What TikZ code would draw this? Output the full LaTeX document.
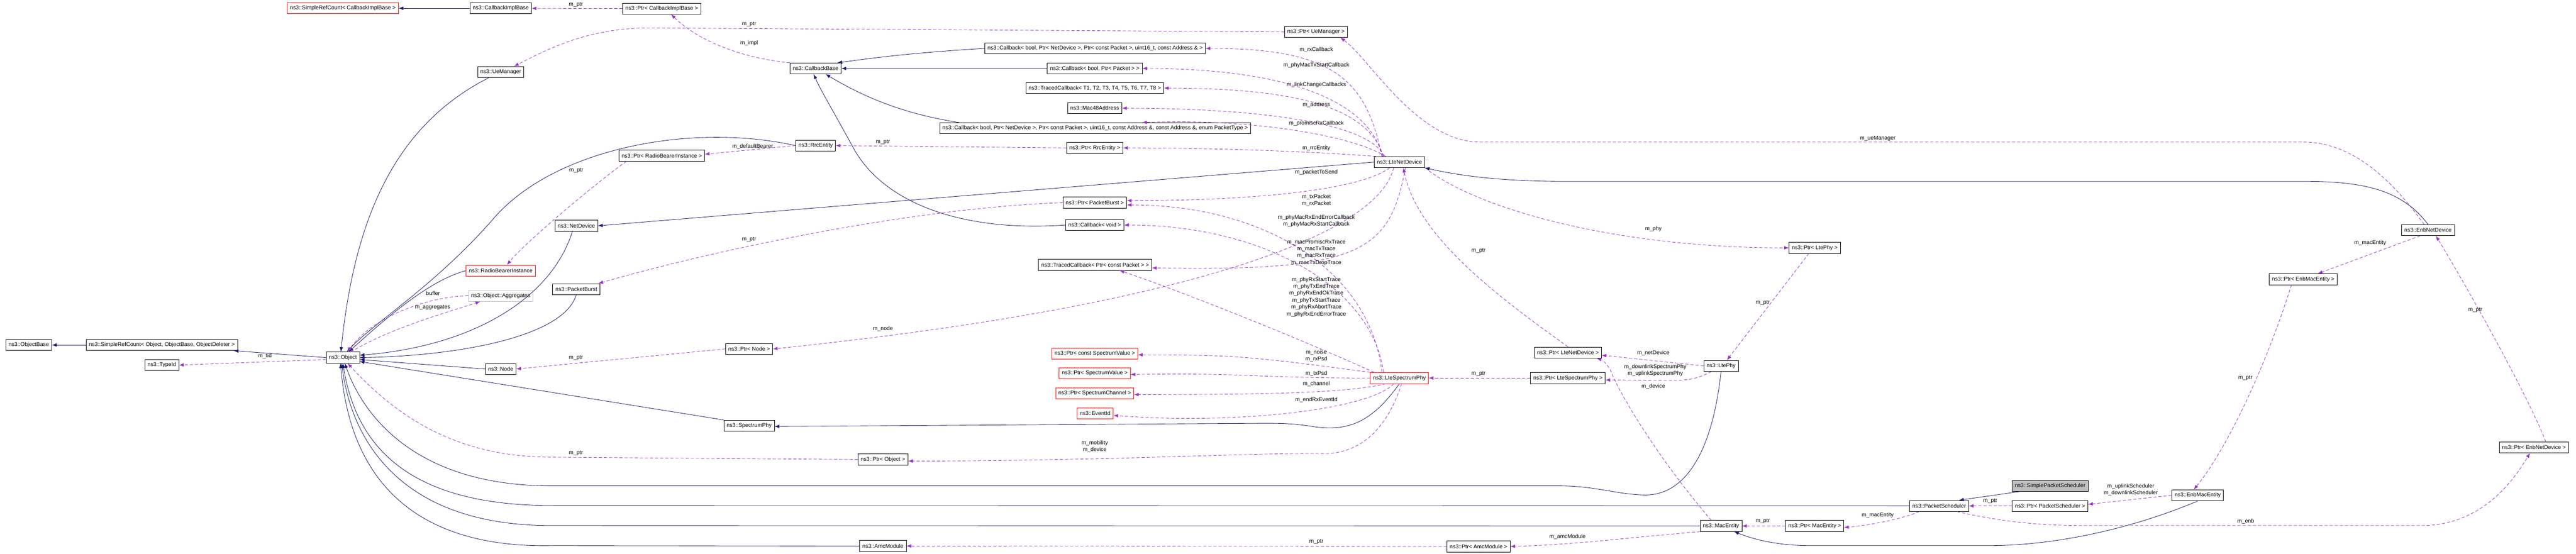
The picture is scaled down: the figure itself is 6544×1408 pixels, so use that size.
\documentclass[tikz,border=0pt]{standalone}
\usepackage{fontspec}
\setmainfont{Liberation Sans}
\usetikzlibrary{arrows.meta}
\definecolor{inhc}{RGB}{25,25,112}
\definecolor{depc}{RGB}{154,50,205}
\definecolor{redb}{RGB}{255,0,0}
\definecolor{greyb}{RGB}{191,191,191}
\begin{document}
\begin{tikzpicture}[x=1pt,y=-1pt,
  every node/.style={font=\fontsize{14}{17.5}\selectfont},
  box/.style={draw=black,line width=1pt,minimum height=28pt,inner xsep=7pt,inner ysep=2pt,fill=white},
  rbox/.style={box,draw=redb},
  gbox/.style={box,draw=greyb},
  sbox/.style={box,fill=greyb},
  lab/.style={align=center,inner sep=0pt},
  inh/.style={draw=inhc,line width=1.1pt,-{Latex[length=12pt,width=9pt]}},
  dep/.style={draw=depc,line width=1.1pt,dash pattern=on 8pt off 5pt,-{Latex[length=12pt,width=9pt]}}]
\useasboundingbox (0,0) rectangle (6544,1408);
% nodes
\node[rbox] (sref1) at (871,21) {ns3::SimpleRefCount< CallbackImplBase >};
\node[box] (cib) at (1272,21) {ns3::CallbackImplBase};
\node[box] (pcib) at (1681,22) {ns3::Ptr< CallbackImplBase >};
\node[box] (uem) at (1272,183) {ns3::UeManager};
\node[rbox] (rbi) at (1272,688) {ns3::RadioBearerInstance};
\node[gbox] (agg) at (1272,752) {ns3::Object::Aggregates};
\node[box] (obase) at (73,877) {ns3::ObjectBase};
\node[box] (sref2) at (411,877) {ns3::SimpleRefCount< Object, ObjectBase, ObjectDeleter >};
\node[box] (tid) at (411,928) {ns3::TypeId};
\node[box] (obj) at (871,909) {ns3::Object};
\node[box] (node) at (1272,938) {ns3::Node};
\node[box] (cbb) at (2072,174) {ns3::CallbackBase};
\node[box] (rrc) at (2072,370) {ns3::RrcEntity};
\node[box] (prbi) at (1681,396) {ns3::Ptr< RadioBearerInstance >};
\node[box] (nd) at (1464,574) {ns3::NetDevice};
\node[box] (pb) at (1464,735) {ns3::PacketBurst};
\node[box] (pnode) at (1903,887) {ns3::Ptr< Node >};
\node[box] (sphy) at (1903,1082) {ns3::SpectrumPhy};
\node[box] (pobj) at (2243,1168) {ns3::Ptr< Object >};
\node[box] (amc) at (2243,1388) {ns3::AmcModule};
\node[box] (puem) at (3343,81) {ns3::Ptr< UeManager >};
\node[box] (cb1) at (2782,123) {ns3::Callback< bool, Ptr< NetDevice >, Ptr< const Packet >, uint16\_t, const Address \& >};
\node[box] (cb2) at (2781,174) {ns3::Callback< bool, Ptr< Packet > >};
\node[box] (tcb) at (2781,224) {ns3::TracedCallback< T1, T2, T3, T4, T5, T6, T7, T8 >};
\node[box] (mac48) at (2781,275) {ns3::Mac48Address};
\node[box] (cb3) at (2782,326) {ns3::Callback< bool, Ptr< NetDevice >, Ptr< const Packet >, uint16\_t, const Address \&, const Address \&, enum PacketType >};
\node[box] (prrc) at (2781,376) {ns3::Ptr< RrcEntity >};
\node[box] (lnd) at (3555,412) {ns3::LteNetDevice};
\node[box] (ppb) at (2781,515) {ns3::Ptr< PacketBurst >};
\node[box] (cbv) at (2781,572) {ns3::Callback< void >};
\node[box] (tcp) at (2782,673) {ns3::TracedCallback< Ptr< const Packet > >};
\node[rbox] (pcsv) at (2781,899) {ns3::Ptr< const SpectrumValue >};
\node[rbox] (psv) at (2781,949) {ns3::Ptr< SpectrumValue >};
\node[rbox] (psc) at (2781,1000) {ns3::Ptr< SpectrumChannel >};
\node[rbox] (evt) at (2782,1051) {ns3::EventId};
\node[rbox] (lsp) at (3555,961) {ns3::LteSpectrumPhy};
\node[box] (plnd) at (3983,896) {ns3::Ptr< LteNetDevice >};
\node[box] (plsp) at (3983,961) {ns3::Ptr< LteSpectrumPhy >};
\node[box] (lphy) at (4372,930) {ns3::LtePhy};
\node[box] (macE) at (4372,1337) {ns3::MacEntity};
\node[box] (pmac) at (4610,1337) {ns3::Ptr< MacEntity >};
\node[box] (pamc) at (3756,1389) {ns3::Ptr< AmcModule >};
\node[box] (plphy) at (4610,630) {ns3::Ptr< LtePhy >};
\node[box] (enbnd) at (6168,585) {ns3::EnbNetDevice};
\node[box] (penbmac) at (5851,710) {ns3::Ptr< EnbMacEntity >};
\node[box] (penbnd) at (6437,1137) {ns3::Ptr< EnbNetDevice >};
\node[sbox] (sps) at (5208,1235) {ns3::SimplePacketScheduler};
\node[box] (psch) at (4926,1286) {ns3::PacketScheduler};
\node[box] (ppsch) at (5208,1286) {ns3::Ptr< PacketScheduler >};
\node[box] (enbmac) at (5583,1259) {ns3::EnbMacEntity};
% inheritance
\draw[inh] (cib) -- (sref1);
\draw[inh] (sref2) -- (obase);
\draw[inh] (obj.west) -- ([xshift=-10]sref2.south east);
\draw[inh] ([xshift=-30]uem.south) .. controls (1000,320) and (900,560) .. ([xshift=-5]obj.north);
\draw[inh] (rrc.west) .. controls (1750,310) and (1400,380) .. (1250,560) .. controls (1100,730) and (950,820) .. ([xshift=10]obj.north);
\draw[inh] (rbi.west) .. controls (1100,710) and (1000,790) .. ([xshift=15]obj.north);
\draw[inh] ([xshift=-10]nd.south) .. controls (1400,760) and (1200,880) .. ([yshift=6]obj.east);
\draw[inh] (pb.south) .. controls (1430,860) and (1150,905) .. (obj.east);
\draw[inh] (node.west) -- ([yshift=-5]obj.east);
\draw[inh] (sphy.north west) -- ([yshift=-10]obj.east);
\draw[inh] (lphy.south) .. controls (4350,1150) and (4280,1265) .. (4170,1258) .. controls (4100,1255) and (4050,1235) .. (3960,1235) -- (1400,1235) .. controls (1050,1235) and (920,1050) .. ([xshift=5]obj.south);
\draw[inh] (psch.west) -- (1400,1285) .. controls (1000,1285) and (900,1100) .. (obj.south);
\draw[inh] (macE.west) -- (1400,1336) .. controls (1000,1336) and (890,1100) .. ([xshift=-3]obj.south);
\draw[inh] (amc.west) -- (1400,1387) .. controls (950,1395) and (880,1100) .. ([xshift=-6]obj.south);
\draw[inh] (cb1.west) .. controls (2300,135) and (2200,150) .. ([xshift=-10]cbb.north east);
\draw[inh] (cb2) -- (cbb);
\draw[inh] ([xshift=50]cb3.north west) .. controls (2300,290) and (2200,250) .. ([xshift=-40]cbb.south east);
\draw[inh] (cbv.west) .. controls (2450,590) and (2250,520) .. (2170,380) .. controls (2110,270) and (2085,230) .. ([xshift=-5]cbb.south);
\draw[inh] (lnd.west) -- (nd.east);
\draw[inh] (enbnd.north) .. controls (6100,480) and (6000,461) .. (5850,461) -- (3960,461) .. controls (3800,460) and (3700,445) .. (lnd.south east);
\draw[inh] (lsp.south) .. controls (3480,1080) and (3420,1095) .. (3340,1085) .. controls (3280,1075) and (3240,1076) .. (3200,1076) -- ([yshift=-2]sphy.east);
\draw[inh] ([xshift=20]sps.south west) -- ([xshift=-25]psch.north east);
\draw[inh] (enbmac.south) .. controls (5450,1330) and (5250,1387) .. (5050,1387) -- (4600,1387) .. controls (4500,1387) and (4440,1365) .. ([xshift=-20]macE.south east);
% dependencies
\draw[dep] (pcib) -- (cib);
\draw[dep] (cbb.north west) .. controls (1900,150) and (1780,110) .. ([xshift=24]pcib.south);
\draw[dep] (puem.west) -- (1650,71) .. controls (1500,71) and (1400,120) .. ([xshift=34]uem.north);
\draw[dep] ([xshift=20]lnd.north west) .. controls +(-40,-200) and +(320,0) .. (cb1.east);
\draw[dep] ([xshift=22]lnd.north west) .. controls +(-40,-160) and +(320,0) .. (cb2.east);
\draw[dep] ([xshift=24]lnd.north west) .. controls +(-40,-130) and +(320,0) .. (tcb.east);
\draw[dep] ([xshift=26]lnd.north west) .. controls +(-40,-90) and +(320,0) .. (mac48.east);
\draw[dep] ([xshift=30]lnd.north west) .. controls +(-100,-60) and +(250,-10) .. ([xshift=-276]cb3.north east);
\draw[dep] ([xshift=5]lnd.north west) .. controls +(-200,-15) and +(200,0) .. (prrc.east);
\draw[dep] (prrc.west) -- (rrc.east);
\draw[dep] (rrc.west) -- ([yshift=4]prbi.east);
\draw[dep] ([xshift=-90]prbi.south) .. controls (1520,460) and (1330,620) .. ([xshift=16]rbi.north);
\draw[dep] ([xshift=40]lnd.south west) .. controls +(-80,60) and +(300,0) .. ([yshift=5]ppb.east);
\draw[dep] (ppb.west) .. controls (2300,530) and (1800,640) .. ([xshift=56]pb.north);
\draw[dep] ([xshift=50]lnd.south west) .. controls (3500,600) and (3000,780) .. (pnode.east);
\draw[dep] (pnode.west) -- (node.east);
\draw[dep] ([xshift=80]lnd.south west) .. controls (3530,640) and (3460,690) .. ([yshift=-8]tcp.east);
\draw[dep] (lnd.south east) .. controls (3750,530) and (4100,630) .. (plphy.west);
\draw[dep] (plnd.north) .. controls (3800,750) and (3600,600) .. ([xshift=10]lnd.south);
\draw[dep] ([xshift=30]lsp.north west) .. controls +(-30,-260) and +(350,0) .. ([yshift=-6]ppb.east);
\draw[dep] ([xshift=34]lsp.north west) .. controls +(-30,-220) and +(350,0) .. (cbv.east);
\draw[dep] ([xshift=10]lsp.north west) .. controls (3300,860) and (3000,740) .. ([xshift=62]tcp.south);
\draw[dep] (lsp.north west) .. controls +(-300,-40) and +(250,0) .. ([yshift=-3]pcsv.east);
\draw[dep] (lsp.west) .. controls +(-300,0) and +(300,-5) .. ([yshift=-3]psv.east);
\draw[dep] ([xshift=40]lsp.south west) .. controls +(-100,25) and +(300,0) .. ([yshift=-3]psc.east);
\draw[dep] ([xshift=60]lsp.south west) .. controls (3480,1040) and (3150,1080) .. ([yshift=-5]evt.east);
\draw[dep] ([xshift=80]lsp.south west) .. controls (3520,1100) and (3450,1150) .. (3370,1153) .. controls (3200,1150) and (2800,1172) .. ([yshift=-4]pobj.east);
\draw[dep] (pobj.west) -- (1400,1162) .. controls (1150,1162) and (1000,1050) .. ([xshift=12]obj.south);
\draw[dep] (plsp) -- (lsp);
\draw[dep] (lphy.west) -- ([yshift=-7]plnd.east);
\draw[dep] ([xshift=20]lphy.south west) .. controls +(-60,30) and +(200,0) .. ([yshift=-5]plsp.east);
\draw[dep] ([xshift=-25]macE.north) .. controls (4200,1150) and (4110,990) .. (4095,950) .. controls (4085,925) and (4070,915) .. ([xshift=73]plnd.south);
\draw[dep] ([xshift=-15]plphy.south) -- ([xshift=15]lphy.north);
\draw[dep] (macE.south west) .. controls (4150,1365) and (4000,1385) .. (pamc.east);
\draw[dep] (pamc.west) -- (amc.east);
\draw[dep] (pmac) -- (macE);
\draw[dep] ([xshift=25]psch.south west) .. controls (4830,1320) and (4750,1335) .. ([yshift=-4]pmac.east);
\draw[dep] (ppsch) -- (psch);
\draw[dep] (enbmac.west) -- ([yshift=4]ppsch.east);
\draw[dep] ([xshift=-30]penbmac.south) .. controls (5750,950) and (5650,1150) .. ([xshift=-10]enbmac.north);
\draw[dep] ([xshift=-20]enbnd.south) -- ([xshift=37]penbmac.north);
\draw[dep] ([xshift=30]penbnd.north) .. controls (6420,1000) and (6250,700) .. ([xshift=20]enbnd.south);
\draw[dep] ([xshift=-30]psch.south east) .. controls (5100,1330) and (5200,1336) .. (5300,1336) -- (6150,1336) .. controls (6300,1336) and (6380,1230) .. ([xshift=-10]penbnd.south);
\draw[dep] ([xshift=-10]enbnd.north) .. controls (6050,420) and (5950,361) .. (5850,361) -- (3760,361) .. controls (3600,361) and (3480,150) .. ([xshift=62]puem.south);
\draw[dep] ([yshift=-5]obj.west) -- (tid.east);
\draw[dep] ([xshift=20]obj.north) .. controls (1000,830) and (1150,790) .. ([xshift=-52]agg.south);
\draw[dep] (agg.west) .. controls (1100,752) and (950,800) .. ([xshift=12]obj.north);
% labels
\node[lab] (l1) at (1463,12) {m\_ptr};
\node[lab] (l2) at (1903,62) {m\_ptr};
\node[lab] (l3) at (1903,109) {m\_impl};
\node[lab] (l4) at (1912,372) {m\_defaultBearer};
\node[lab] (l5) at (1464,434) {m\_ptr};
\node[lab] (l6) at (1903,609) {m\_ptr};
\node[lab] (l7) at (2243,362) {m\_ptr};
\node[lab] (l8) at (2243,836) {m\_node};
\node[lab] (l9) at (1463,910) {m\_ptr};
\node[lab] (l10) at (1463,1152) {m\_ptr};
\node[lab] (l11) at (1100,746) {buffer};
\node[lab] (l12) at (1099,782) {m\_aggregates};
\node[lab] (l13) at (673,905) {m\_tid};
\node[lab] (l14) at (3344,126) {m\_rxCallback};
\node[lab] (l15) at (3344,166) {m\_phyMacTxStartCallback};
\node[lab] (l16) at (3344,216) {m\_linkChangeCallbacks};
\node[lab] (l17) at (3344,266) {m\_address};
\node[lab] (l18) at (3344,314) {m\_promiscRxCallback};
\node[lab] (l19) at (3344,377) {m\_rrcEntity};
\node[lab] (l20) at (3344,438) {m\_packetToSend};
\node[lab] (l21) at (3344,509) {m\_txPacket\\m\_rxPacket};
\node[lab] (l22) at (3344,562) {m\_phyMacRxEndErrorCallback\\m\_phyMacRxStartCallback};
\node[lab] (l23) at (3344,642) {m\_macPromiscRxTrace\\m\_macTxTrace\\m\_macRxTrace\\m\_macTxDropTrace};
\node[lab] (l24) at (3344,755) {m\_phyRxStartTrace\\m\_phyTxEndTrace\\m\_phyRxEndOkTrace\\m\_phyTxStartTrace\\m\_phyRxAbortTrace\\m\_phyRxEndErrorTrace};
\node[lab] (l25) at (3344,905) {m\_noise\\m\_rxPsd};
\node[lab] (l26) at (3344,950) {m\_txPsd};
\node[lab] (l27) at (3344,976) {m\_channel};
\node[lab] (l28) at (3344,1016) {m\_endRxEventId};
\node[lab] (l29) at (2781,1135) {m\_mobility\\m\_device};
\node[lab] (l30) at (3344,1377) {m\_ptr};
\node[lab] (l31) at (3756,950) {m\_ptr};
\node[lab] (l32) at (3756,637) {m\_ptr};
\node[lab] (l33) at (4200,582) {m\_phy};
\node[lab] (l34) at (4200,898) {m\_netDevice};
\node[lab] (l35) at (4205,941) {m\_downlinkSpectrumPhy\\m\_uplinkSpectrumPhy};
\node[lab] (l36) at (4200,982) {m\_device};
\node[lab] (l37) at (4478,770) {m\_ptr};
\node[lab] (l38) at (3982,1364) {m\_amcModule};
\node[lab] (l39) at (4478,1325) {m\_ptr};
\node[lab] (l40) at (4770,1310) {m\_macEntity};
\node[lab] (l41) at (4770,352) {m\_ueManager};
\node[lab] (l42) at (6021,618) {m\_macEntity};
\node[lab] (l43) at (6288,788) {m\_ptr};
\node[lab] (l44) at (5704,961) {m\_ptr};
\node[lab] (l45) at (5413,1245) {m\_uplinkScheduler\\m\_downlinkScheduler};
\node[lab] (l46) at (5056,1274) {m\_ptr};
\node[lab] (l47) at (5705,1325) {m\_enb};
\end{tikzpicture}
\end{document}
